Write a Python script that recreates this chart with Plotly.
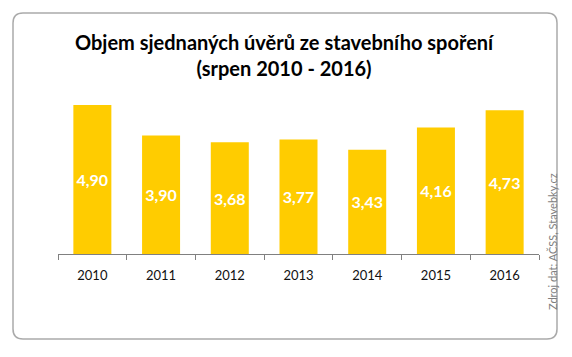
import plotly.graph_objects as go

years = ["2010", "2011", "2012", "2013", "2014", "2015", "2016"]
values = [4.90, 3.90, 3.68, 3.77, 3.43, 4.16, 4.73]
labels = ["4,90", "3,90", "3,68", "3,77", "3,43", "4,16", "4,73"]
title_text = "Objem sjednaných úvěrů ze stavebního spoření<br>(srpen 2010 - 2016)"
source_text = "Zdroj dat: AČSS, Stavebky.cz"

OFF = 8  # default page body margin
W, H = 572 - OFF, 357 - OFF
L, R, T, B = 58 - OFF, 539 - OFF, 102 - OFF, 254 - OFF  # plot area in figure px

def px(x):
    return (x - OFF - L) / (R - L)

def py(y):
    return (B - (y - OFF)) / (B - T)

fig = go.Figure(go.Bar(
    x=years, y=values, text=labels,
    marker=dict(color="#FFCC00", line=dict(width=0)),
    textposition="inside", insidetextanchor="middle",
    textfont=dict(color="white", size=16, family="Lato", weight="bold"),
    cliponaxis=False,
))

# rounded border box (screen px coords)
x0, x1, y0, y1, r = 13, 557, 13, 339, 10
path = (
    f"M {px(x0+r)},{py(y0)} L {px(x1-r)},{py(y0)} Q {px(x1)},{py(y0)} {px(x1)},{py(y0+r)} "
    f"L {px(x1)},{py(y1-r)} Q {px(x1)},{py(y1)} {px(x1-r)},{py(y1)} "
    f"L {px(x0+r)},{py(y1)} Q {px(x0)},{py(y1)} {px(x0)},{py(y1-r)} "
    f"L {px(x0)},{py(y0+r)} Q {px(x0)},{py(y0)} {px(x0+r)},{py(y0)} Z"
)

fig.update_layout(
    width=W, height=H,
    margin=dict(l=L, r=W - R, t=T, b=H - B),
    paper_bgcolor="white", plot_bgcolor="white",
    bargap=0.447,
    showlegend=False,
    uniformtext=dict(minsize=8, mode="show"),
    xaxis=dict(
        type="category", tickson="boundaries", ticks="outside", ticklen=5,
        tickcolor="#808080", showline=True, linecolor="#808080", linewidth=1,
        showgrid=False, tickfont=dict(family="Lato", size=13, color="#111111"),
        ticklabelstandoff=9,
    ),
    yaxis=dict(range=[0, 5], visible=False, showgrid=False, zeroline=False),
    shapes=[dict(type="path", xref="paper", yref="paper", path=path,
                 line=dict(color="#AAAAAA", width=1.5), fillcolor="rgba(0,0,0,0)")],
    annotations=[
        dict(text=title_text, x=px(285), y=py(55), xref="paper", yref="paper",
             xanchor="center", yanchor="middle", showarrow=False,
             font=dict(family="Lato", size=20, color="black", weight="bold")),
        dict(text=source_text, x=px(552), y=py(242), xref="paper", yref="paper",
             xanchor="center", yanchor="middle", showarrow=False, textangle=-90,
             font=dict(family="Lato", size=11, color="#7F7F7F")),
    ],
)

fig.write_html("out.html")
